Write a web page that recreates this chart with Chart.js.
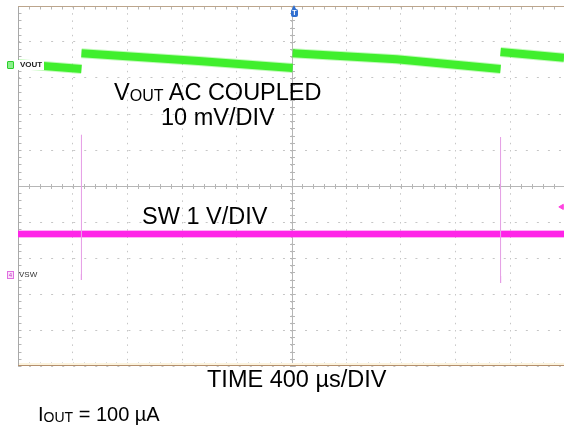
<!DOCTYPE html>
<html><head><meta charset="utf-8">
<script src="https://cdn.jsdelivr.net/npm/chart.js@4.4.1/dist/chart.umd.min.js"></script>
<style>
html,body{margin:0;padding:0;background:#fff;overflow:hidden}
#wrap{position:relative;width:569px;height:429px;font-family:"Liberation Sans",Arial,sans-serif;color:#000}
canvas{position:absolute;left:0;top:0}
.t{position:absolute;white-space:nowrap;line-height:1;font-size:23.5px}
.sub{font-size:16px;position:relative;top:1px}
.mk{position:absolute;font-size:8px;line-height:1;white-space:nowrap}
</style></head>
<body><div id="wrap"><canvas id="c" width="569" height="429"></canvas>
<div class="t" style="left:114px;top:81px">V<span class="sub">OUT</span> AC COUPLED</div>
<div class="t" style="left:161px;top:106px">10 mV/DIV</div>
<div class="t" style="left:142px;top:205px">SW 1 V/DIV</div>
<div class="t" style="left:207px;top:368px">TIME 400 µs/DIV</div>
<div class="t" style="left:38px;top:403.5px;font-size:20px">I<span class="sub" style="font-size:14px">OUT</span> = 100 µA</div>
<div class="mk" style="left:7px;top:61px;width:5px;height:6px;border:1px solid #2ccf2c;background:#8cf08c;border-radius:1px"></div>
<div class="mk" style="left:18px;top:60px;padding:1px 2px;background:#fff;font-weight:bold;color:#222">VOUT</div>
<div class="mk" style="left:7px;top:271px;width:5px;height:6px;border:1px solid #e070e0;background:#fbe0fb;color:#c040c0;font-size:6px;text-align:center;line-height:6px">4</div>
<div class="mk" style="left:19px;top:271px;color:#333">VSW</div>
<div class="mk" style="left:292px;top:5px;width:0;height:0;border-left:2.5px solid transparent;border-right:2.5px solid transparent;border-bottom:4px solid #2f6fd0"></div>
<div class="mk" style="left:291px;top:9px;width:7px;height:8px;background:#2f6fd0;border-radius:2px;color:#fff;font-size:7px;font-weight:bold;text-align:center;line-height:8px">T</div>
</div>
<script>
// Screen is 10 x 10 divisions. Time axis 400 µs/div, VOUT 10 mV/div (AC coupled), SW 1 V/div.
const screenDivX = 9.98;           // visible horizontal divisions (right edge cut)
const screenDivY = 10;
const minorStep = 0.2;
const centerDiv = {x: 5, y: 5};

// VOUT trace (divisions); null = break at each step
const voutTime  = [0.00, 1.16, 1.16, 1.16, 3.30, 5.02, 5.02, 5.02, 6.92, 8.82, 8.82, 8.82, 9.98];
const voutLevel = [8.39, 8.25, null, 8.69, 8.47, 8.28, null, 8.69, 8.52, 8.25, null, 8.72, 8.56];

// SW trace (divisions)
const swTime  = [0.00, 9.98];
const swLevel = [3.67, 3.67];

// switching spikes on SW channel
const spikeTime    = [1.16, 8.82];
const spikeTop     = [6.42, 6.36];
const spikeBottom  = [2.39, 2.31];
const spikeTailTop = [2.55, 2.50];

// channel 4 offset marker at right edge
const ch4Marker = {x: 9.94, y: 4.42};

const toXY = (xs, ys) => xs.map((v, i) => ({x: v, y: ys[i]}));

const datasets = [];
datasets.push({data: toXY(voutTime, voutLevel), borderColor: 'rgba(80,240,60,0.35)', borderWidth: 10});
datasets.push({data: toXY(voutTime, voutLevel), borderColor: '#38ee26', borderWidth: 8});
spikeTime.forEach((t, i) => {
  datasets.push({data: [{x: t, y: spikeTop[i]}, {x: t, y: spikeBottom[i]}], borderColor: 'rgba(230,160,230,0.75)', borderWidth: 1});
  datasets.push({data: [{x: t, y: spikeTailTop[i]}, {x: t, y: spikeBottom[i]}], borderColor: 'rgba(220,90,220,0.8)', borderWidth: 1});
});
datasets.push({data: toXY(swTime, swLevel), borderColor: 'rgba(255,60,235,0.4)', borderWidth: 8});
datasets.push({data: toXY(swTime, swLevel), borderColor: '#ff14e6', borderWidth: 6});
datasets.push({data: [ch4Marker], showLine: false, pointRadius: 3, pointStyle: 'triangle', rotation: -90, backgroundColor: '#ff44e0', borderColor: '#ff44e0'});

datasets.forEach(d => {
  d.showLine = d.showLine !== false;
  if (d.pointRadius === undefined) d.pointRadius = 0;
  d.fill = false;
  d.tension = 0;
  d.spanGaps = false;
  d.borderCapStyle = 'butt';
  d.borderJoinStyle = 'miter';
});

const scopePlugin = {
  id: 'scope',
  beforeDatasetsDraw(chart) {
    const {ctx, chartArea: a, scales: {x, y}} = chart;
    const cx = Math.round(x.getPixelForValue(centerDiv.x)) + 0.5;
    const cy = Math.round(y.getPixelForValue(centerDiv.y)) + 0.5;
    const left = Math.round(a.left) + 0.5, top = Math.round(a.top) + 0.5, bottom = Math.round(a.bottom) - 0.5;
    ctx.save();
    ctx.lineWidth = 1;
    ctx.strokeStyle = '#b6b6b6';
    ctx.beginPath();
    ctx.moveTo(cx, a.top); ctx.lineTo(cx, a.bottom);
    ctx.moveTo(a.left, cy); ctx.lineTo(a.right, cy);
    for (let v = 0; v <= x.max + 1e-6; v += minorStep) {
      const px = Math.round(x.getPixelForValue(v)) + 0.5;
      ctx.moveTo(px, cy - 2.5); ctx.lineTo(px, cy + 2.5);
      ctx.moveTo(px, bottom); ctx.lineTo(px, bottom - 3);
      ctx.moveTo(px, top); ctx.lineTo(px, top + 3);
    }
    for (let v = 0; v <= screenDivY + 1e-6; v += minorStep) {
      const py = Math.round(y.getPixelForValue(v)) + 0.5;
      ctx.moveTo(cx - 2.5, py); ctx.lineTo(cx + 2.5, py);
      ctx.moveTo(left, py); ctx.lineTo(left + 3, py);
    }
    ctx.stroke();
    ctx.fillStyle = '#fcf4df';
    ctx.fillRect(a.left, a.bottom - 3, a.right - a.left, 2);
    ctx.strokeStyle = '#a8a8a8';
    ctx.beginPath(); ctx.moveTo(left, a.top); ctx.lineTo(left, a.bottom); ctx.stroke();
    ctx.strokeStyle = '#bca58c';
    ctx.beginPath(); ctx.moveTo(a.left, top); ctx.lineTo(a.right, top); ctx.stroke();
    ctx.strokeStyle = '#b48f6c';
    ctx.beginPath(); ctx.moveTo(a.left, bottom); ctx.lineTo(a.right, bottom); ctx.stroke();
    ctx.restore();
  }
};

new Chart(document.getElementById('c'), {
  type: 'scatter',
  data: {datasets},
  options: {
    responsive: false,
    animation: false,
    devicePixelRatio: 1,
    layout: {padding: {left: 18, top: 6, right: 0, bottom: 63}},
    plugins: {legend: {display: false}, tooltip: {enabled: false}},
    scales: {
      x: {
        type: 'linear', min: 0, max: screenDivX,
        ticks: {display: false, stepSize: 1, includeBounds: false},
        grid: {color: '#c6c6c6', lineWidth: 1, drawTicks: false},
        border: {display: false, dash: [1.5, 5.7]}
      },
      y: {
        type: 'linear', min: 0, max: screenDivY,
        ticks: {display: false, stepSize: 1, includeBounds: false},
        grid: {color: '#c6c6c6', lineWidth: 1, drawTicks: false},
        border: {display: false, dash: [2, 9.04]}
      }
    }
  },
  plugins: [scopePlugin]
});
</script>
</body></html>
